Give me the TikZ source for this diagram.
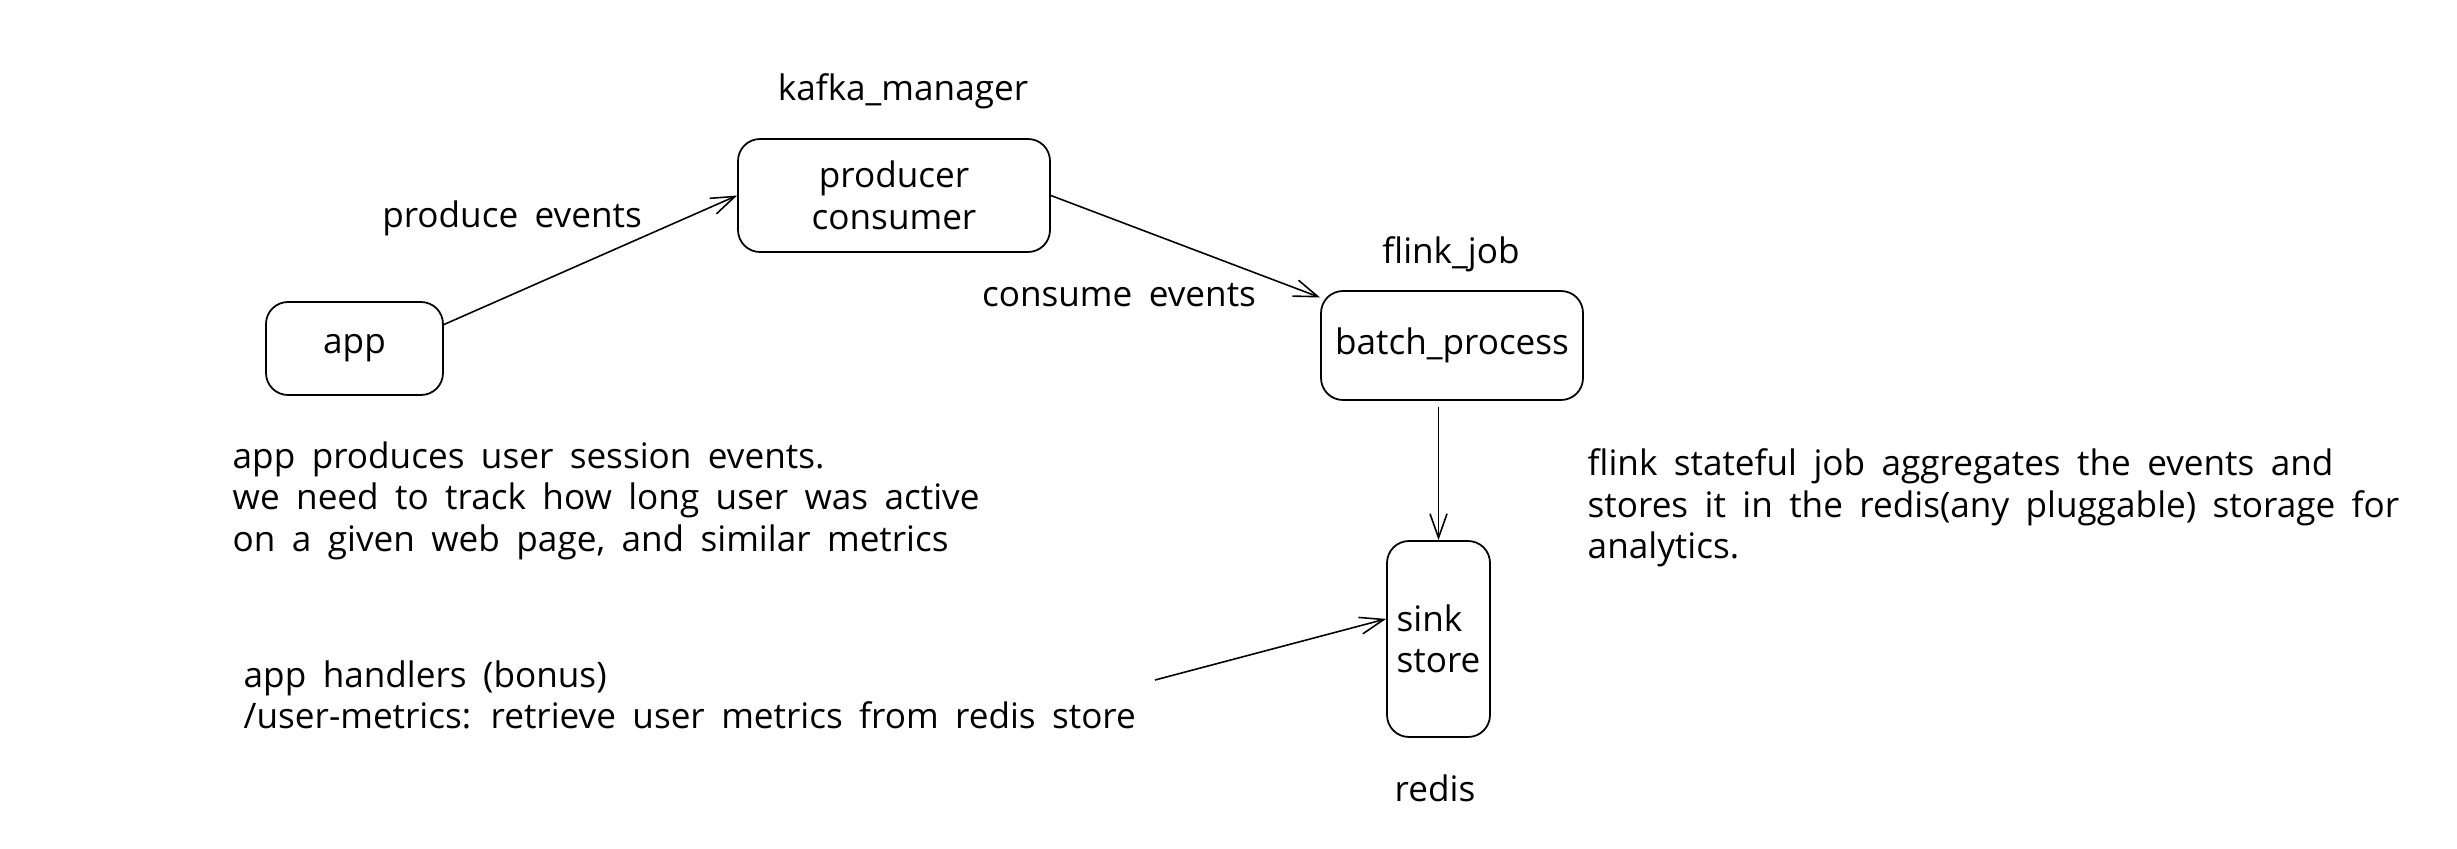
\documentclass[tikz,border=0pt]{standalone}
\usepackage{fontspec}
\setmainfont{Open Sans}[WordSpace=1.8]
\usepackage{tikz}
\usetikzlibrary{arrows.meta}

\begin{document}
\begin{tikzpicture}[x=1cm,y=1cm,
  font=\fontsize{10}{11.8}\selectfont,
  >={Straight Barb[length=2.4mm,width=1.7mm]},
  box/.style={draw, line width=0.5pt, rounded corners=0.22cm, align=center, inner sep=0pt},
  note/.style={align=left, inner sep=0pt, anchor=north west},
  flow/.style={->, line width=0.45pt}]
\useasboundingbox (0,0) rectangle (24.57,-8.49);

% Boxes for each service
\node[box, minimum width=1.77cm, minimum height=0.93cm] (app) at (3.545,-3.485) {app};
\node[box, minimum width=3.12cm, minimum height=1.13cm] (prod) at (8.94,-1.955) {producer\\consumer};
\node[box, minimum width=2.62cm, minimum height=1.09cm] (batch) at (14.52,-3.455) {batch\_process};
\node[box, minimum width=1.03cm, minimum height=1.96cm, align=left] (sink) at (14.385,-6.39) {sink\\store};

% Names above / below the boxes
\node (kafka) at (9.03,-0.91) {kafka\_manager};
\node (flink) at (14.51,-2.54) {flink\_job};
\node (redis) at (14.35,-7.88) {redis};

% Labels on the arrows
\node (produce) at (5.12,-2.18) {produce events};
\node (consume) at (11.19,-2.95) {consume events};

% Notes
\node[note] (appnote) at (2.32,-4.41) {app produces user session events.\\we need to track how long user was active\\on a given web page, and similar metrics};
\node[note] (handlers) at (2.43,-6.60) {app handlers (bonus)\\/user-metrics: retrieve user metrics from redis store};
\node[note] (flinknote) at (15.87,-4.48) {flink stateful job aggregates the events and\\stores it in the redis(any pluggable) storage for\\analytics.};

% Flow of events
\coordinate (query) at (11.55,-6.80);
\draw[flow] (app.15) -- (prod.west);
\draw[flow] (prod.east) -- (batch.160);
\draw[flow] ([yshift=-0.06cm]sink.north |- batch.south) -- (sink.north);
\draw[flow] (query) -- (sink.159);

\end{tikzpicture}
\end{document}
